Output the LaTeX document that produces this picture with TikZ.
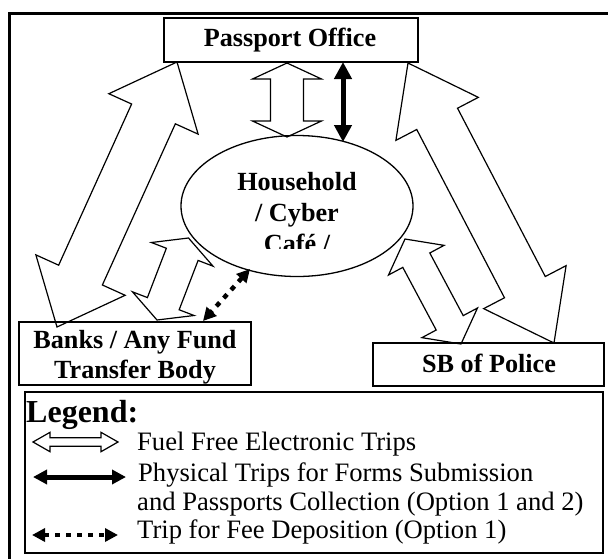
\documentclass[tikz,border=0pt]{standalone}
\usepackage{fontspec}
\setmainfont{Liberation Serif}
\usetikzlibrary{calc,arrows.meta,shapes.geometric}

\tikzset{
  frame/.style={draw, line width=3pt},
  box/.style={draw, line width=1.3pt, inner sep=0pt, outer sep=0pt},
  title/.style={font=\fontsize{26.2}{31}\selectfont\bfseries, inner sep=0pt},
  legtitle/.style={font=\fontsize{32}{36}\selectfont\bfseries, inner sep=0pt, anchor=base west},
  legtext/.style={font=\fontsize{26.6}{31}\selectfont, inner sep=0pt, anchor=base west},
  blockarr/.style={draw, line width=1.2pt, line join=miter},
  thickarr/.style={line width=5pt, {Triangle[length=17pt,width=17pt]}-{Triangle[length=17pt,width=17pt]}},
  thickleg/.style={line width=5pt, {Triangle[length=14pt,width=14pt]}-{Triangle[length=14pt,width=14pt]}},
  dotarr/.style={line width=4.5pt, dash pattern=on 5pt off 6pt, {Triangle[length=13pt,width=13pt]}-{Triangle[length=13pt,width=13pt]}},
}

% double block arrow: from, to, head length, head half width, shaft half width
\newcommand\blockdbl[5]{%
  \coordinate (bdA) at ($(#1)!#3!(#2)$);
  \coordinate (bdB) at ($(#2)!#3!(#1)$);
  \draw[blockarr] (#1) -- ($(bdA)!#4!90:(#2)$) -- ($(bdA)!#5!90:(#2)$)
    -- ($(bdB)!#5!-90:(#1)$) -- ($(bdB)!#4!-90:(#1)$) -- (#2)
    -- ($(bdB)!#4!90:(#1)$) -- ($(bdB)!#5!90:(#1)$)
    -- ($(bdA)!#5!-90:(#2)$) -- ($(bdA)!#4!-90:(#2)$) -- cycle;
}

\begin{document}
\begin{tikzpicture}[x=1pt,y=-1pt]
\useasboundingbox (0,0) rectangle (608,558);
\clip (0,0) rectangle (608,558);
\draw[frame] (9.5,13) rectangle (660,610);

% boxes
\node[box, minimum width=254pt, minimum height=44pt] (po) at (291,40) {};
\node[title, anchor=base] (pot) at (290,46) {Passport Office};
\node[box, minimum width=232pt, minimum height=63pt] (bk) at (135,353.5) {};
\node[title, anchor=base] (bkt1) at (135,348) {Banks / Any Fund};
\node[title, anchor=base] (bkt2) at (135,378) {Transfer Body};
\node[box, minimum width=231pt, minimum height=43pt] (sb) at (488.5,364.5) {};
\node[title, anchor=base] (sbt) at (489,372) {SB of Police};
\node[box, minimum width=578pt, minimum height=161pt] (lg) at (314,472.5) {};

% household ellipse
\node[draw, ellipse, line width=1.3pt, minimum width=232pt, minimum height=141pt, inner sep=0pt] (hh) at (297,206) {};
\node[title, anchor=base] (hht1) at (297,190) {Household};
\node[title, anchor=base] (hht2) at (297,221) {/ Cyber};
\begin{scope}
  \clip (150,120) rectangle (450,248.5);
  \node[title, anchor=base] (hht3) at (297,252) {Café /};
\end{scope}

% fuel free electronic trips (block arrows)
\coordinate (L1) at (177,62);   \coordinate (L2) at (57,327);
\blockdbl{L1}{L2}{57pt}{49pt}{24pt}
\coordinate (R1) at (408,63);   \coordinate (R2) at (554,343);
\blockdbl{R1}{R2}{63pt}{46.5pt}{23pt}
\coordinate (C1) at (287,63);   \coordinate (C2) at (287,137);
\blockdbl{C1}{C2}{16pt}{34.5pt}{16.5pt}
\coordinate (S1) at (188.5,238); \coordinate (S2) at (157,320);
\blockdbl{S1}{S2}{17.5pt}{33pt}{17pt}
\coordinate (T1) at (405,239);  \coordinate (T2) at (461,344);
\blockdbl{T1}{T2}{24pt}{31.5pt}{15.3pt}

% physical trip
\coordinate (P1) at (343,62); \coordinate (P2) at (343,142);
\draw[thickarr] (P1) -- (P2);

% fee deposition trip
\coordinate (D1) at (250,269); \coordinate (D2) at (203,321);
\draw[dotarr] (D1) -- (D2);

% legend
\node[legtitle] (legt) at (26,422) {Legend:};
\coordinate (la1) at (33,442); \coordinate (la2) at (118,442);
\blockdbl{la1}{la2}{17pt}{9.7pt}{4.3pt}
\node[legtext] (lt1) at (137,450) {Fuel Free Electronic Trips};
\coordinate (lb1) at (33,477); \coordinate (lb2) at (126,477);
\draw[thickleg] (lb1) -- (lb2);
\node[legtext] (lt2) at (138,481) {Physical Trips for Forms Submission};
\node[legtext] (lt3) at (137,510) {and Passports Collection (Option 1 and 2)};
\coordinate (lc1) at (32,535); \coordinate (lc2) at (118,535);
\draw[dotarr] (lc1) -- (lc2);
\node[legtext] (lt4) at (137,538) {Trip for Fee Deposition (Option 1)};
\end{tikzpicture}
\end{document}
